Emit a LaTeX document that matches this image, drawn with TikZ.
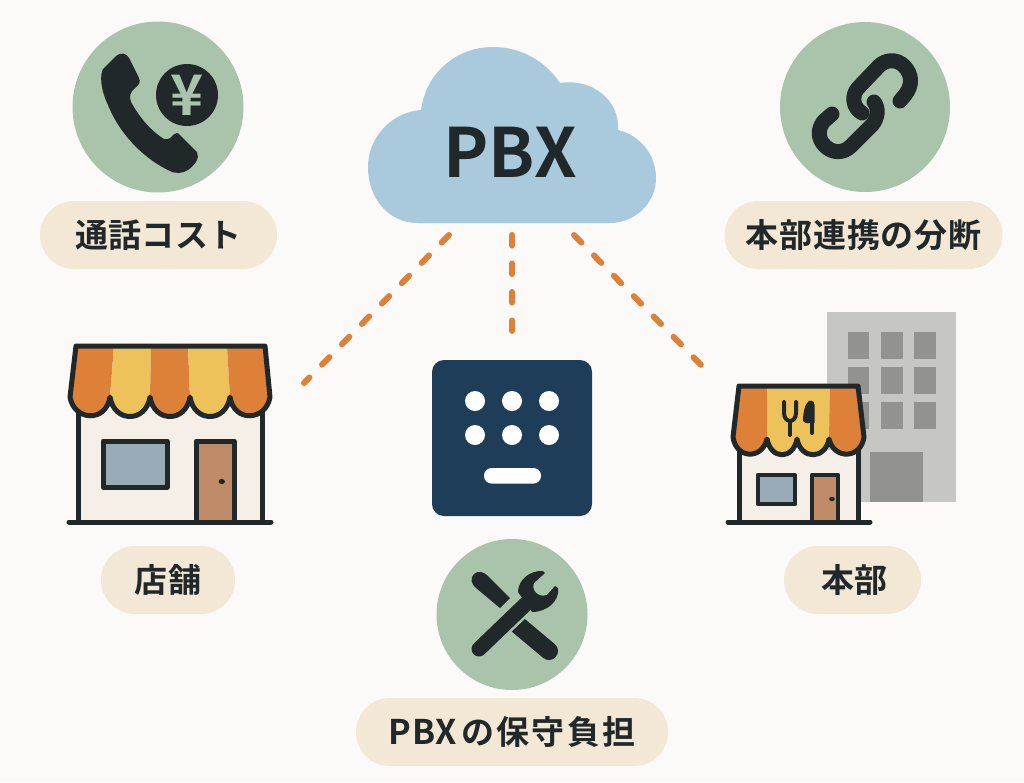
\documentclass[tikz,border=0pt]{standalone}
\usepackage{fontspec}
\setmainfont{Noto Sans CJK JP}[BoldFont={Noto Sans CJK JP Bold}]
\definecolor{bg}{HTML}{FBFAF8}
\definecolor{sage}{HTML}{A9C4AB}
\definecolor{ink}{HTML}{212829}
\definecolor{tan}{HTML}{F3E7D6}
\definecolor{cloudb}{HTML}{A9CADD}
\definecolor{org}{HTML}{DD8038}
\definecolor{yel}{HTML}{EEC25A}
\definecolor{wall}{HTML}{F6EFE8}
\definecolor{glass}{HTML}{98ABB6}
\definecolor{door}{HTML}{C08B68}
\definecolor{navy}{HTML}{1D3D58}
\definecolor{bldg}{HTML}{C6C6C5}
\definecolor{bwin}{HTML}{929291}
\newcommand{\spaced}[2]{{\addfontfeature{LetterSpace=#1}#2}}
\tikzset{
  x=1pt,y=-1pt,
  pill/.style={fill=tan,draw=none,rounded corners=34pt,minimum height=68pt,inner sep=0pt,font=\fontsize{33}{33}\selectfont\bfseries,text=ink},
  badge/.style={circle,fill=sage,draw=none,inner sep=0pt},
  conn/.style={draw=org,line width=6pt,line cap=round,dash pattern=on 10.5pt off 18pt},
  ol/.style={draw=ink,line width=5pt,line join=round},
}
\begin{document}
\begin{tikzpicture}
\path[fill=bg] (0,0) rectangle (1024,782);
\useasboundingbox (0,0) rectangle (1024,782);
% cloud
\fill[cloudb] (418,223) .. controls (388,223) and (368,198) .. (368,167)
  .. controls (368,137) and (392,112) .. (421,110)
  .. controls (426,73) and (456,47) .. (493,47)
  .. controls (522,47) and (546,62) .. (560,83)
  .. controls (592,78) and (620,100) .. (618,130)
  .. controls (640,135) and (656,155) .. (656,178)
  .. controls (656,203) and (635,223) .. (610,223) -- cycle;
\node[inner sep=0pt,text=ink,font=\fontsize{68}{68}\selectfont\bfseries] (pbx) at (510,152) {PBX};
\coordinate (cl) at (449,235); \coordinate (cm) at (512,235); \coordinate (cr) at (574,235);
\coordinate (sl) at (304,383); \coordinate (sm) at (512,332); \coordinate (sr) at (704,368);
\draw[conn] (cl) -- (sl);
\draw[conn] (cm) -- (sm);
\draw[conn] (cr) -- (sr);
% badges
\node[badge,minimum size=171pt] (b1) at (158,107) {};
\node[badge,minimum size=151pt] (b2) at (512,614.5) {};
\node[badge,minimum size=170pt] (b3) at (865,107) {};
% phone
\fill[ink] (116,56) .. controls (122,52) and (126,53) .. (129,58)
  -- (139,78) .. controls (141,82) and (139,85) .. (135,88)
  .. controls (130,92) and (129,97) .. (131,102)
  .. controls (140,118) and (150,130) .. (164,139)
  .. controls (168,140) and (171,138) .. (173,135)
  .. controls (175,133) and (178,132) .. (180,135)
  -- (197,152) .. controls (200,158) and (195,165) .. (188,170)
  .. controls (182,174) and (176,173) .. (172,172)
  .. controls (145,160) and (120,135) .. (108,105)
  .. controls (100,88) and (100,75) .. (103,69) -- cycle;
\fill[ink] (187,95) circle (31);
\node[inner sep=0pt,text=sage,font=\fontsize{56}{56}\selectfont\bfseries] (yen) at (187,95) {¥};
% link
\draw[ink,line width=15pt,line cap=round,line join=round]
  (862,113) .. controls (853,108) and (851,96) .. (858,88) -- (879,66)
  .. controls (885,60) and (896,58) .. (904,66) .. controls (912,74) and (913,85) .. (905,95) -- (900,101);
\draw[ink,line width=15pt,line cap=round,line join=round]
  (874,102) .. controls (879,108) and (878,118) .. (872,125) -- (851,146)
  .. controls (843,154) and (832,153) .. (825,146) .. controls (817,138) and (818,128) .. (824,121) -- (832,114);
% screwdriver & wrench
\fill[ink] (474,574) .. controls (478,570) and (484,572) .. (488,576) -- (510,598) -- (500,608)
  -- (476,588) .. controls (471,584) and (470,578) .. (474,574) -- cycle;
\draw[ink,line width=18pt,line cap=round] (512,620) -- (549,651);
\draw[sage,line width=23pt] (488,638) -- (527,601);
\draw[ink,line width=15pt,line cap=round] (479,649) -- (530,600);
\fill[ink] (518,592) .. controls (518,580) and (530,570) .. (543,571) -- (545,573) -- (534,583)
  .. controls (531,590) and (538,598) .. (547,595) -- (555,586) -- (558,588)
  .. controls (560,600) and (548,612) .. (532,612) -- cycle;
% storefront 1
\path[fill=wall] (78,410) rectangle (262,521);
\draw[ol] (78,410) -- (78,521);
\draw[ol] (262,410) -- (262,521);
\draw[ink,line width=5pt,line cap=round] (69,522) -- (271,522);
\path[fill=glass,draw=ink,line width=5pt,line join=round] (103,441) rectangle (167,487);
\path[fill=door,draw=ink,line width=5pt,line join=round] (196,441) rectangle (234,522);
\fill[ink] (221.7,481.5) ellipse (3.2 and 2.6);
\fill[org] (76,346) -- (114,346) -- (110,397) .. controls (106,423) and (74,421) .. (70,397) -- cycle;
\fill[yel] (114,346) -- (151,346) -- (150,397) .. controls (146,423) and (114,423) .. (110,397) -- cycle;
\fill[org] (151,346) -- (188,346) -- (190,397) .. controls (186,423) and (154,423) .. (150,397) -- cycle;
\fill[yel] (188,346) -- (227,346) -- (230,397) .. controls (226,423) and (194,423) .. (190,397) -- cycle;
\fill[org] (227,346) -- (265,346) -- (270,397) .. controls (266,421) and (234,423) .. (230,397) -- cycle;
\draw[ol] (76,346) -- (265,346) -- (270,397) .. controls (266,421) and (234,423) .. (230,397)
  .. controls (226,423) and (194,423) .. (190,397) .. controls (186,423) and (154,423) .. (150,397)
  .. controls (146,423) and (114,423) .. (110,397) .. controls (106,423) and (74,421) .. (70,397) -- cycle;
% building
\fill[bldg] (827,312) rectangle (956,502);
\foreach \xa/\xb in {848/869,881/903,914/936}{
  \foreach \ya/\yb in {332/359,367/394,402/429}{
    \fill[bwin] (\xa,\ya) rectangle (\xb,\yb);
  }
}
\fill[bwin] (870,452) rectangle (923,502);
% storefront 2
\path[fill=wall] (739,450) rectangle (858,522);
\draw[ol] (739,450) -- (739,522);
\draw[ol] (858,450) -- (858,522);
\draw[ink,line width=5pt,line cap=round] (728,522) -- (870,522);
\path[fill=glass,draw=ink,line width=4.5pt,line join=round] (758,475) rectangle (795,504);
\path[fill=door,draw=ink,line width=4.5pt,line join=round] (812,475) rectangle (838,522);
\fill[ink] (832,499) ellipse (2.8 and 2.2);
\fill[org] (739,386) -- (767,386) -- (767,439) .. controls (762,460) and (736,459) .. (733,437) -- cycle;
\fill[yel] (767,386) -- (830,386) -- (829,439) .. controls (825,460) and (801,460) .. (797,439) .. controls (793,460) and (771,460) .. (767,439) -- cycle;
\fill[org] (830,386) -- (858,386) -- (864,437) .. controls (861,459) and (834,460) .. (829,439) -- cycle;
\draw[ol] (739,386) -- (858,386) -- (864,437) .. controls (861,459) and (834,460) .. (829,439)
  .. controls (825,460) and (801,460) .. (797,439) .. controls (793,460) and (771,460) .. (767,439)
  .. controls (762,460) and (736,459) .. (733,437) -- cycle;
\draw[ink,line width=4pt,line cap=round] (790,421) -- (790,435);
\draw[ink,line width=4pt,line cap=round,line join=round] (784,402) -- (784,413) .. controls (784,418) and (787,421) .. (790,421) .. controls (793,421) and (796,418) .. (796,413) -- (796,402);
\draw[ink,line width=4pt,line cap=round] (812,405) -- (812,433);
\fill[ink] (814.5,405) .. controls (814.5,400) and (809,399) .. (807,403) .. controls (804,407) and (803,415) .. (803,421) -- (806,423) -- (814.5,423) -- cycle;
% keypad
\fill[navy,rounded corners=12pt] (432,360) rectangle (592,516);
\foreach \cx in {475,512,549}{
  \foreach \cy in {401,435}{
    \fill[white] (\cx,\cy) circle (10);
  }
}
\fill[white,rounded corners=7.5pt] (484,468) rectangle (541,483.5);
% labels
\node[pill,minimum width=237pt] (l1) at (158.5,235) {\spaced{1}{通話コスト}};
\node[pill,minimum width=278pt] (l2) at (863.5,235) {\spaced{2.5}{本部連携の分断}};
\node[pill,minimum width=134pt] (l3) at (168,580) {\spaced{5}{店舗}};
\node[pill,minimum width=137pt] (l4) at (852.5,580) {\hspace*{4pt}\spaced{1}{本部}};
\node[pill,minimum width=312pt] (l5) at (512,732) {{\fontsize{34}{34}\selectfont\spaced{3}{PBX}}\hspace{4pt}\spaced{7}{の保守負担}};
\end{tikzpicture}
\end{document}
